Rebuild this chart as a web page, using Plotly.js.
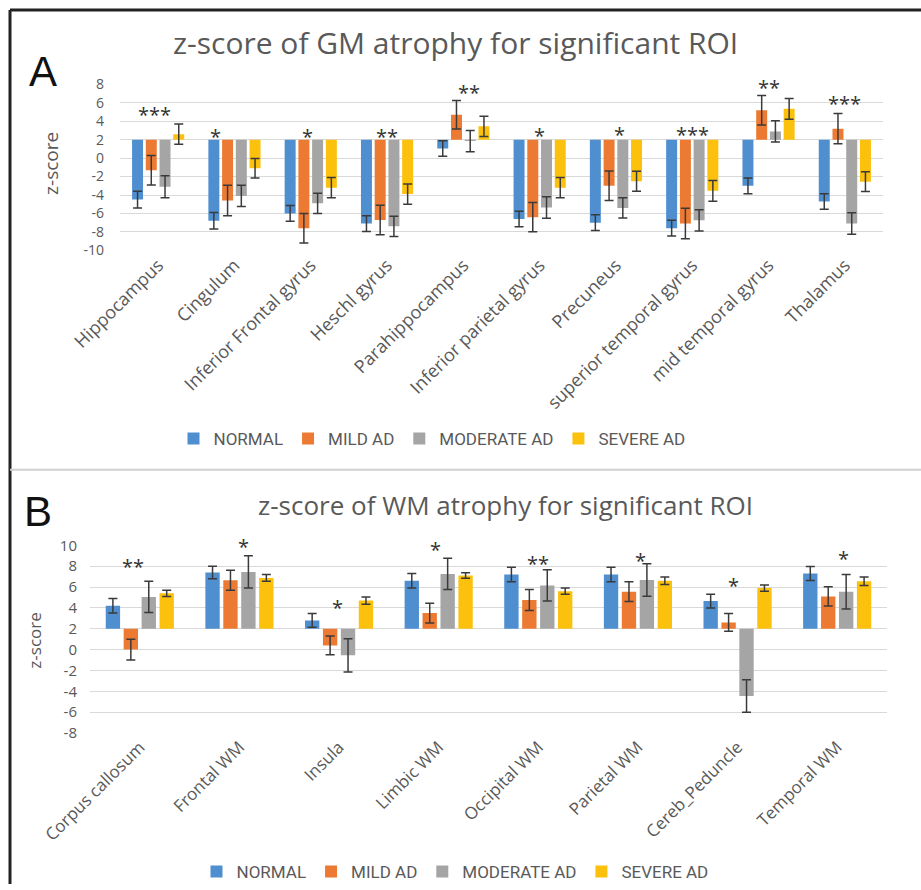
<!DOCTYPE html>
<html>
<head>
<meta charset="utf-8">
<script src="https://cdn.plot.ly/plotly-3.0.1.min.js"></script>
<style>html,body{margin:0;padding:0;background:#fff;}#chart{width:921px;height:890px;}</style>
</head>
<body>
<div id="chart"></div>
<script>
// ---------- Panel A: GM atrophy ----------
const gmCategories = ['Hippocampus','Cingulum','Inferior Frontal gyrus','Heschl gyrus','Parahippocampus','Inferior parietal gyrus','Precuneus','superior temporal gyrus','mid temporal gyrus','Thalamus'];
const gmNormal      = [-4.5, -6.8, -6.0, -7.1, 1.05, -6.6, -7.0, -7.6, -3.0, -4.7];
const gmNormalErr   = [0.9, 0.9, 0.85, 0.85, 0.85, 0.85, 0.85, 0.85, 0.85, 0.85];
const gmMild        = [-1.3, -4.6, -7.6, -6.7, 4.7, -6.4, -3.0, -7.1, 5.2, 3.2];
const gmMildErr     = [1.6, 1.65, 1.6, 1.6, 1.55, 1.6, 1.6, 1.65, 1.6, 1.65];
const gmModerate    = [-3.1, -4.1, -4.9, -7.4, 1.85, -5.35, -5.4, -6.75, 2.9, -7.1];
const gmModerateErr = [1.2, 1.15, 1.1, 1.1, 1.15, 1.17, 1.1, 1.16, 1.15, 1.17];
const gmSevere      = [2.6, -1.1, -3.2, -3.9, 3.45, -3.2, -2.5, -3.55, 5.35, -2.55];
const gmSevereErr   = [1.1, 1.05, 1.1, 1.1, 1.1, 1.1, 1.08, 1.13, 1.13, 1.08];
const gmStars       = ['***','*','*','**','**','*','*','***','**','***'];
const gmStarY       = [5.4, 3.0, 3.0, 3.0, 7.8, 3.1, 3.2, 3.2, 8.3, 6.6];
const gmStarShift   = [-0.05, -0.25, -0.04, 0, 0.07, 0, 0.05, 0, 0, 0];
const gmTicks       = [8, 6, 4, 2, 0, -2, -4, -6, -8, -10];

// ---------- Panel B: WM atrophy ----------
const wmCategories = ['Corpus callosum','Frontal WM','Insula','Limbic WM','Occipital WM','Parietal WM','Cereb_Peduncle','Temporal WM'];
const wmNormal      = [4.2, 7.4, 2.8, 6.6, 7.2, 7.2, 4.65, 7.3];
const wmNormalErr   = [0.7, 0.6, 0.65, 0.7, 0.7, 0.7, 0.65, 0.67];
const wmMild        = [0.0, 6.65, 0.4, 3.5, 4.75, 5.55, 2.6, 5.1];
const wmMildErr     = [1.0, 0.95, 0.9, 0.95, 1.0, 0.95, 0.85, 0.93];
const wmModerate    = [5.05, 7.45, -0.55, 7.25, 6.15, 6.67, -4.45, 5.55];
const wmModerateErr = [1.5, 1.55, 1.6, 1.5, 1.5, 1.55, 1.55, 1.65];
const wmSevere      = [5.4, 6.87, 4.7, 7.1, 5.6, 6.6, 5.9, 6.55];
const wmSevereErr   = [0.3, 0.32, 0.35, 0.27, 0.3, 0.35, 0.3, 0.4];
const wmStars       = ['**','*','*','*','**','*','*','*'];
const wmStarY       = [8.5, 10.5, 4.6, 10.2, 8.85, 9.1, 6.7, 9.3];
const wmStarShift   = [-0.07, 0.04, -0.02, -0.03, 0, 0.03, -0.04, 0.06];
const wmTicks       = [10, 8, 6, 4, 2, 0, -2, -4, -6, -8];

const groupNames  = ['NORMAL','MILD AD','MODERATE AD','SEVERE AD'];
const groupColors = ['#4f8fd0','#ec7a33','#a5a5a5','#fcc10d'];
const BASELINE = 2;   // horizontal axis crosses at 2 in the source chart

const TXT = '#595959';
const FONT = 'Open Sans, sans-serif';

function makeTraces(cats, series, errs, xa, ya, legendId) {
  return series.map((vals, i) => ({
    type: 'bar',
    name: groupNames[i],
    x: cats,
    y: vals.map(v => v - BASELINE),
    base: BASELINE,
    xaxis: xa, yaxis: ya,
    legend: legendId,
    marker: {color: groupColors[i]},
    error_y: {type: 'data', array: errs[i], visible: true, color: '#3a3a3a', thickness: 1.5, width: 4.5},
    hoverinfo: 'skip'
  }));
}

const traces = [].concat(
  makeTraces(gmCategories, [gmNormal, gmMild, gmModerate, gmSevere],
             [gmNormalErr, gmMildErr, gmModerateErr, gmSevereErr], 'x', 'y', 'legend'),
  makeTraces(wmCategories, [wmNormal, wmMild, wmModerate, wmSevere],
             [wmNormalErr, wmMildErr, wmModerateErr, wmSevereErr], 'x2', 'y2', 'legend2')
);

const W = 921, H = 890;
const px = v => v / W, py = v => 1 - v / H;

const domA = [py(252), py(85)], rangeA = [-10, 8];
const domB = [py(738), py(549)], rangeB = [-8, 10];
// map a data value of a y axis to paper coordinates (so stars above the axis top are still drawn)
const toPaper = (v, dom, rng) => dom[0] + (v - rng[0]) / (rng[1] - rng[0]) * (dom[1] - dom[0]);

const starFont = {family: FONT, size: 20, color: '#333'};
const annotations = [];
gmStars.forEach((s, i) => annotations.push({
  xref: 'x', yref: 'paper', x: i + gmStarShift[i], y: toPaper(gmStarY[i], domA, rangeA), text: s, showarrow: false,
  xanchor: 'center', yanchor: 'middle', font: starFont, yshift: -6
}));
wmStars.forEach((s, i) => annotations.push({
  xref: 'x2', yref: 'paper', x: i + wmStarShift[i], y: toPaper(wmStarY[i], domB, rangeB), text: s, showarrow: false,
  xanchor: 'center', yanchor: 'middle', font: starFont, yshift: -6
}));
const pa = (x, y, text, font, extra) => Object.assign({xref: 'paper', yref: 'paper', x: px(x), y: py(y), text: text,
  showarrow: false, xanchor: 'center', yanchor: 'middle', font: font}, extra || {});
annotations.push(
  pa(455, 43, 'z-score of GM atrophy for significant ROI', {family: FONT, size: 30, color: TXT}),
  pa(505, 508, 'z-score of WM atrophy for significant ROI', {family: FONT, size: 26, color: TXT}),
  pa(43, 72, 'A', {family: 'Liberation Sans, Arial, sans-serif', size: 42, color: '#111'}),
  pa(38, 515, 'B', {family: 'Liberation Sans, Arial, sans-serif', size: 42, color: '#111'}),
  pa(51, 165, 'z-score', {family: FONT, size: 19, color: TXT}, {textangle: -90}),
  pa(35, 645, 'z-score', {family: FONT, size: 17, color: TXT}, {textangle: -90})
);

const axisCommon = {
  showline: false, zeroline: false, gridcolor: '#d9d9d9', gridwidth: 1,
  tickfont: {family: FONT, size: 15, color: TXT}, fixedrange: true
};
const legendFont = {family: 'Roboto, sans-serif', size: 17, color: TXT};

const layout = {
  width: W, height: H,
  margin: {l: 0, r: 0, t: 0, b: 0},
  paper_bgcolor: '#fff', plot_bgcolor: '#fff',
  barmode: 'group', bargap: 0.28, bargroupgap: 0.2,
  showlegend: true,
  xaxis: Object.assign({}, axisCommon, {domain: [px(120), px(883)], anchor: 'y', tickangle: -45, showgrid: false,
         tickfont: {family: FONT, size: 18, color: TXT}}),
  yaxis: Object.assign({}, axisCommon, {domain: domA, anchor: 'x', range: rangeA,
         tickvals: gmTicks, ticktext: gmTicks.map(String), ticklabelstandoff: 15, tickfont: {family: FONT, size: 14, color: TXT}}),
  xaxis2: Object.assign({}, axisCommon, {domain: [px(90), px(887)], anchor: 'y2', tickangle: -45, showgrid: false,
         tickfont: {family: FONT, size: 17, color: TXT}}),
  yaxis2: Object.assign({}, axisCommon, {domain: domB, anchor: 'x2', range: rangeB,
         tickvals: wmTicks, ticktext: wmTicks.map(String), ticklabelstandoff: 12}),
  legend: {orientation: 'h', x: px(432), xanchor: 'center', y: py(442), yanchor: 'middle',
           font: legendFont, itemwidth: 30, bgcolor: 'rgba(0,0,0,0)'},
  legend2: {orientation: 'h', x: px(455), xanchor: 'center', y: py(878), yanchor: 'middle',
           font: legendFont, itemwidth: 30, bgcolor: 'rgba(0,0,0,0)'},
  annotations: annotations,
  shapes: [
    {type: 'line', xref: 'paper', yref: 'paper', x0: px(10), x1: 1, y0: py(10), y1: py(10), line: {color: '#222', width: 3}},
    {type: 'line', xref: 'paper', yref: 'paper', x0: px(10), x1: px(10), y0: py(10), y1: 0, line: {color: '#222', width: 3}},
    {type: 'line', xref: 'paper', yref: 'paper', x0: px(10), x1: 1, y0: py(473), y1: py(473), line: {color: '#d0d0d0', width: 2}}
  ]
};

Plotly.newPlot('chart', traces, layout, {staticPlot: true, displayModeBar: false});
</script>
</body>
</html>
